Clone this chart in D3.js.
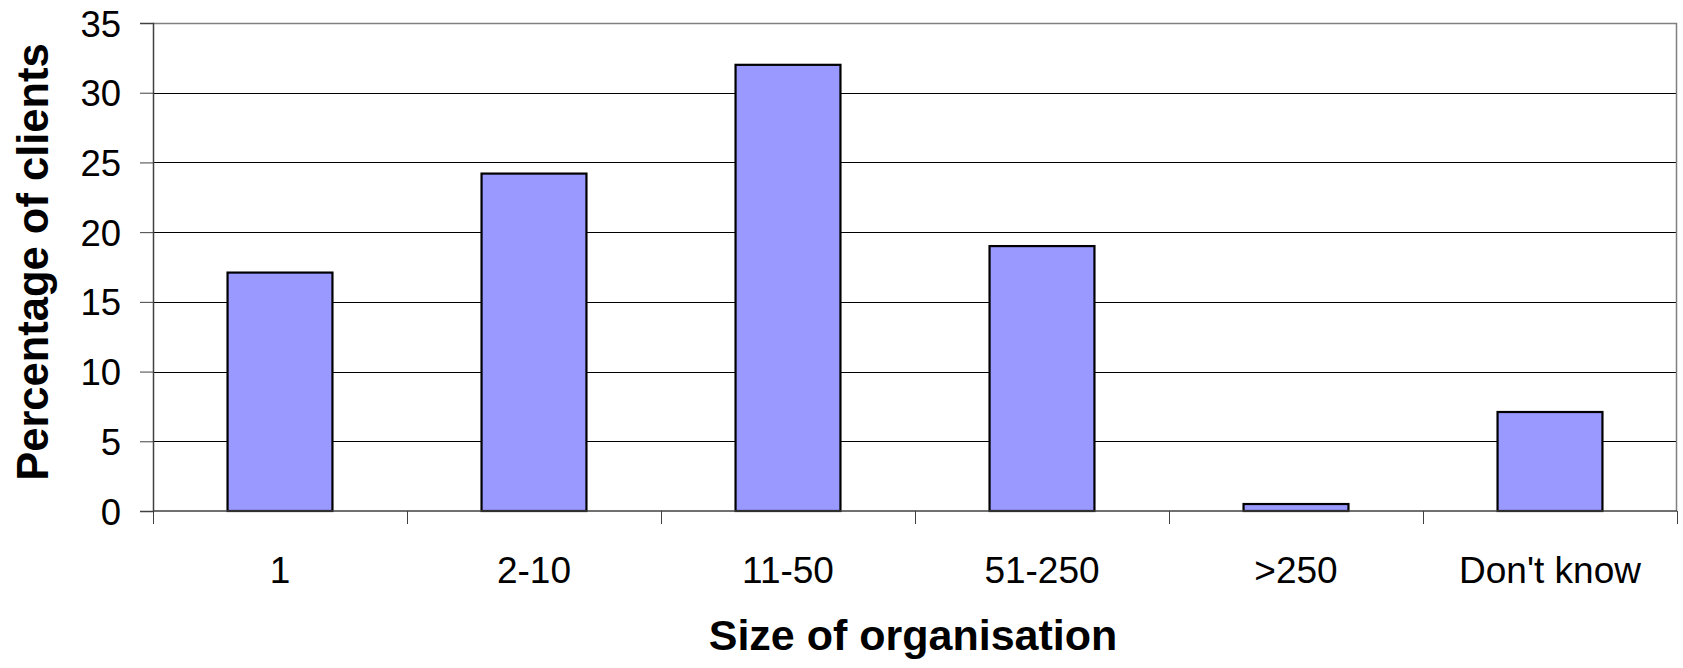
<!DOCTYPE html>
<html>
<head>
<meta charset="utf-8">
<script src="https://cdn.jsdelivr.net/npm/d3@7"></script>
<style>
  html, body { margin: 0; padding: 0; background: #fff; }
  svg { display: block; }
  text { font-family: "Liberation Sans", Arial, sans-serif; fill: #000; }
</style>
</head>
<body>
<svg id="chart" width="1683" height="668"></svg>
<script>
// Share of clients by organisation size
const categories = ["1", "2-10", "11-50", "51-250", ">250", "Don't know"];
const values = [17.1, 24.2, 32.0, 19.0, 0.5, 7.1];
const yTicks = [0, 5, 10, 15, 20, 25, 30, 35];

const W = 1683, H = 668;
const margin = { top: 23, right: 6, bottom: 157, left: 153 };
const plotW = W - margin.left - margin.right;
const plotH = H - margin.top - margin.bottom;

const svg = d3.select("#chart");
const g = svg.append("g").attr("transform", `translate(${margin.left},${margin.top})`);

// category slots (for ticks) and bars within them
const xSlot = d3.scaleBand().domain(categories).range([0, plotW]).padding(0);
const x = d3.scaleBand().domain(categories).range([0, plotW])
  .paddingInner(0.587).paddingOuter(0.2935);
const y = d3.scaleLinear().domain([0, 35]).range([plotH, 0]);

// horizontal gridlines
g.append("g").selectAll("line")
  .data(yTicks.filter(t => t > 0 && t < 35))
  .join("line")
  .attr("x1", 0).attr("x2", plotW)
  .attr("y1", d => Math.round(y(d)) + 0.5).attr("y2", d => Math.round(y(d)) + 0.5)
  .attr("stroke", "#000").attr("stroke-width", 1);

// plot frame (top and right)
g.append("path")
  .attr("d", `M0,${Math.round(y(35)) + 0.5}H${plotW - 0.5}V${plotH}`)
  .attr("fill", "none").attr("stroke", "#808080").attr("stroke-width", 1.5);

// bars
g.append("g").selectAll("rect")
  .data(values)
  .join("rect")
  .attr("x", (d, i) => x(categories[i]))
  .attr("width", x.bandwidth())
  .attr("y", d => y(d))
  .attr("height", d => y(0) - y(d))
  .attr("fill", "#9999FF")
  .attr("stroke", "#000")
  .attr("stroke-width", 2.2);

// y axis
const yAxis = d3.axisLeft(y).tickValues(yTicks).tickSize(13).tickPadding(19).tickFormat(d3.format("d"));
const gy = g.append("g").call(yAxis);
gy.select(".domain").attr("stroke", "#404040").attr("stroke-width", 1.5);
gy.selectAll(".tick line").attr("stroke", "#404040");
gy.selectAll(".tick text")
  .style("font-family", "'Liberation Sans', Arial, sans-serif")
  .style("font-size", "36.5px").attr("fill", "#000").attr("dy", "0.36em");

// x axis: ticks at slot boundaries, labels centred in slots
const gx = g.append("g").attr("transform", `translate(0,${plotH})`);
gx.append("line").attr("x1", 0).attr("x2", plotW).attr("y1", 0).attr("y2", 0)
  .attr("stroke", "#404040").attr("stroke-width", 1.5);
const bounds = d3.range(categories.length + 1).map(i => i * xSlot.step());
gx.selectAll("line.tk").data(bounds).join("line").attr("class", "tk")
  .attr("x1", d => Math.round(d) + 0.5).attr("x2", d => Math.round(d) + 0.5)
  .attr("y1", 0).attr("y2", 13)
  .attr("stroke", "#404040").attr("stroke-width", 1);
gx.selectAll("text").data(categories).join("text")
  .attr("x", d => xSlot(d) + xSlot.bandwidth() / 2)
  .attr("y", 72)
  .attr("text-anchor", "middle")
  .style("font-size", "37px")
  .text(d => d);

// axis titles
svg.append("text")
  .attr("x", margin.left + plotW / 2 - 2)
  .attr("y", 650)
  .attr("text-anchor", "middle")
  .style("font-size", "43px").style("font-weight", "bold")
  .text("Size of organisation");

svg.append("text")
  .attr("transform", `translate(48,${margin.top + plotH / 2 - 5}) rotate(-90)`)
  .attr("text-anchor", "middle")
  .style("font-size", "43.5px").style("font-weight", "bold")
  .text("Percentage of clients");
</script>
</body>
</html>
